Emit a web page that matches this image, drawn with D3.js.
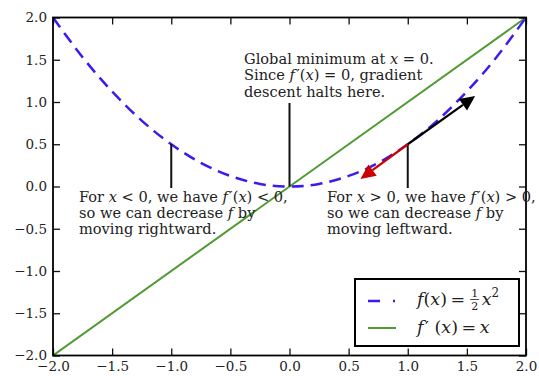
<!DOCTYPE html>
<html>
<head>
<meta charset="utf-8">
<style>
  body { margin: 0; background: #fff; }
  text { font-family: "DejaVu Serif", "Liberation Serif", serif; fill: #222; }
</style>
</head>
<body>
<svg width="539" height="376"></svg>
<script src="https://d3js.org/d3.v7.min.js"></script>
<script>

// f(x) = x^2 / 2, f'(x) = x
var curveX = [-2, -1.75, -1.5, -1.25, -1, -0.75, -0.5, -0.25, 0, 0.25, 0.5, 0.75, 1, 1.25, 1.5, 1.75, 2];
var curveY = [2, 1.53, 1.125, 0.78, 0.5, 0.28, 0.125, 0.03, 0, 0.03, 0.125, 0.28, 0.5, 0.78, 1.125, 1.53, 2];
var derivX = [-2, 2];
var derivY = [-2, 2];

var xTicks = [-2, -1.5, -1, -0.5, 0, 0.5, 1, 1.5, 2];
var yTicks = [-2, -1.5, -1, -0.5, 0, 0.5, 1, 1.5, 2];

// annotation anchors (data coords)
var markX = [-1, 0, 1];
var arrowStart = [1, 0.5];
var arrowUp = [1.57, 1.07];
var arrowDown = [0.6, 0.09];

var svg = d3.select("svg"),
    margin = {top: 17.5, right: 13, bottom: 20.5, left: 53},
    width = +svg.attr("width") - margin.left - margin.right,
    height = +svg.attr("height") - margin.top - margin.bottom,
    g = svg.append("g").attr("transform", "translate(" + margin.left + "," + margin.top + ")");

var x = d3.scaleLinear().domain([-2, 2]).range([0, width]);
var y = d3.scaleLinear().domain([-2, 2]).range([height, 0]);

var fmt = d3.format(".1f");

g.append("clipPath").attr("id", "clip")
  .append("rect").attr("width", width).attr("height", height);

var line = d3.line()
    .x(function(d) { return x(d[0]); })
    .y(function(d) { return y(d[1]); });

var blue = "#3b1cf0", green = "#4f9a33", red = "#cc0000";

g.append("path")
    .datum(d3.zip(derivX, derivY))
    .attr("clip-path", "url(#clip)")
    .attr("fill", "none")
    .attr("stroke", green)
    .attr("stroke-width", 2)
    .attr("d", line);

g.append("path")
    .datum(d3.zip(curveX, curveY))
    .attr("clip-path", "url(#clip)")
    .attr("fill", "none")
    .attr("stroke", blue)
    .attr("stroke-width", 2.5)
    .attr("stroke-dasharray", "12,7")
    .attr("d", line.curve(d3.curveNatural));

// vertical marker lines
var markTop = {"-1": y(0.5), "0": 103 - margin.top, "1": y(0.5)};
g.selectAll(".mark")
  .data(markX)
  .enter().append("line")
    .attr("x1", function(d) { return x(d); })
    .attr("x2", function(d) { return x(d); })
    .attr("y1", function(d) { return markTop[d]; })
    .attr("y2", function(d) { return d === 0 ? y(0) : 188 - margin.top; })
    .attr("stroke", "#111")
    .attr("stroke-width", 2);

function arrow(from, to, color) {
  var x0 = x(from[0]), y0 = y(from[1]), x1 = x(to[0]), y1 = y(to[1]);
  var dx = x1 - x0, dy = y1 - y0, len = Math.sqrt(dx * dx + dy * dy);
  var ux = dx / len, uy = dy / len, hl = 15, hw = 7;
  var bx = x1 - ux * hl, by = y1 - uy * hl;
  g.append("line")
    .attr("x1", x0).attr("y1", y0).attr("x2", bx).attr("y2", by)
    .attr("stroke", color).attr("stroke-width", 2.2);
  g.append("path")
    .attr("d", "M" + x1 + "," + y1 +
               "L" + (bx - uy * hw) + "," + (by + ux * hw) +
               "L" + (bx + uy * hw) + "," + (by - ux * hw) + "Z")
    .attr("fill", color);
}
arrow(arrowStart, arrowUp, "#000");
arrow(arrowStart, arrowDown, red);

// annotation text: each line is a list of [text, style]; 1 = italic, 2 = prime
function addParts(t, parts) {
  parts.forEach(function(p) {
    var s = t.append("tspan").text(p[0]);
    if (p[1] === 1) s.attr("font-style", "italic");
    if (p[1] === 2) s.attr("dx", 1.5);
  });
}
function textBlock(x0, baselines, lines, size) {
  lines.forEach(function(parts, i) {
    var t = svg.append("text")
        .attr("x", x0).attr("y", baselines[i])
        .attr("font-size", size);
    addParts(t, parts);
  });
}

var fs = 14.6;
var base = [63.5, 80, 96.5];
textBlock(244, base, [
  [["Global minimum at ", 0], ["x", 1], [" = 0.", 0]],
  [["Since ", 0], ["f", 1], ["\u2032", 2], ["(", 0], ["x", 1], [") = 0, gradient", 0]],
  [["descent halts here.", 0]]
], fs);

var base2 = [201.5, 217.5, 233.5];
textBlock(79, base2, [
  [["For ", 0], ["x", 1], [" < 0, we have ", 0], ["f", 1], ["\u2032", 2], ["(", 0], ["x", 1], [") < 0,", 0]],
  [["so we can decrease ", 0], ["f", 1], [" by", 0]],
  [["moving rightward.", 0]]
], fs);

textBlock(327, base2, [
  [["For ", 0], ["x", 1], [" > 0, we have ", 0], ["f", 1], ["\u2032", 2], ["(", 0], ["x", 1], [") > 0,", 0]],
  [["so we can decrease ", 0], ["f", 1], [" by", 0]],
  [["moving leftward.", 0]]
], fs);

// axes with inward ticks on all four sides
var tick = 7;
g.append("g")
    .attr("class", "axis")
    .attr("transform", "translate(0," + height + ")")
    .call(d3.axisBottom(x).tickValues(xTicks).tickSizeInner(-tick).tickSizeOuter(0).tickPadding(6).tickFormat(fmt));
g.append("g")
    .attr("class", "axis")
    .call(d3.axisTop(x).tickValues(xTicks).tickSizeInner(-tick).tickSizeOuter(0).tickFormat(""));
g.append("g")
    .attr("class", "axis")
    .call(d3.axisLeft(y).tickValues(yTicks).tickSizeInner(-tick).tickSizeOuter(0).tickPadding(6).tickFormat(fmt));
g.append("g")
    .attr("class", "axis")
    .attr("transform", "translate(" + width + ",0)")
    .call(d3.axisRight(y).tickValues(yTicks).tickSizeInner(-tick).tickSizeOuter(0).tickFormat(""));

g.selectAll(".axis .domain").remove();
g.selectAll(".axis line").attr("stroke", "#111").attr("stroke-width", 1.3);
g.selectAll(".axis text")
    .attr("font-family", "DejaVu Serif, serif")
    .attr("font-size", 13.5)
    .attr("fill", "#222");

g.append("rect")
    .attr("width", width).attr("height", height)
    .attr("fill", "none").attr("stroke", "#000").attr("stroke-width", 1.8);

// legend
var lg = svg.append("g").attr("transform", "translate(355,279)");
lg.append("rect").attr("width", 164).attr("height", 67)
  .attr("fill", "#fff").attr("stroke", "#000").attr("stroke-width", 2);
lg.append("line").attr("x1", 13).attr("x2", 41).attr("y1", 22).attr("y2", 22)
  .attr("stroke", blue).attr("stroke-width", 2.5).attr("stroke-dasharray", "12,13,2,100");
lg.append("line").attr("x1", 13).attr("x2", 41).attr("y1", 49).attr("y2", 49)
  .attr("stroke", green).attr("stroke-width", 2);

var lfs = 17.5;
var l1 = lg.append("text").attr("x", 62).attr("y", 26).attr("font-size", lfs);
addParts(l1, [["f", 1], ["(", 0], ["x", 1], [")\u2009=\u2009", 0]]);
var w1 = l1.node().getComputedTextLength();
var fx = 62 + w1 + 6;
lg.append("text").attr("x", fx).attr("y", 17.5).attr("font-size", 11).attr("text-anchor", "middle").text("1");
lg.append("line").attr("x1", fx - 4.5).attr("x2", fx + 4.5).attr("y1", 20.5).attr("y2", 20.5)
  .attr("stroke", "#222").attr("stroke-width", 0.8);
lg.append("text").attr("x", fx).attr("y", 30.5).attr("font-size", 11).attr("text-anchor", "middle").text("2");
var l1b = lg.append("text").attr("x", fx + 7).attr("y", 26).attr("font-size", lfs);
l1b.append("tspan").attr("font-style", "italic").text("x");
l1b.append("tspan").attr("font-size", 12).attr("dy", -8).text("2");

var l2 = lg.append("text").attr("x", 62).attr("y", 54).attr("font-size", lfs);
addParts(l2, [["f", 1], ["\u2032", 2], [" (", 0], ["x", 1], [")\u2009=\u2009", 0], ["x", 1]]);

</script>
</body>
</html>
